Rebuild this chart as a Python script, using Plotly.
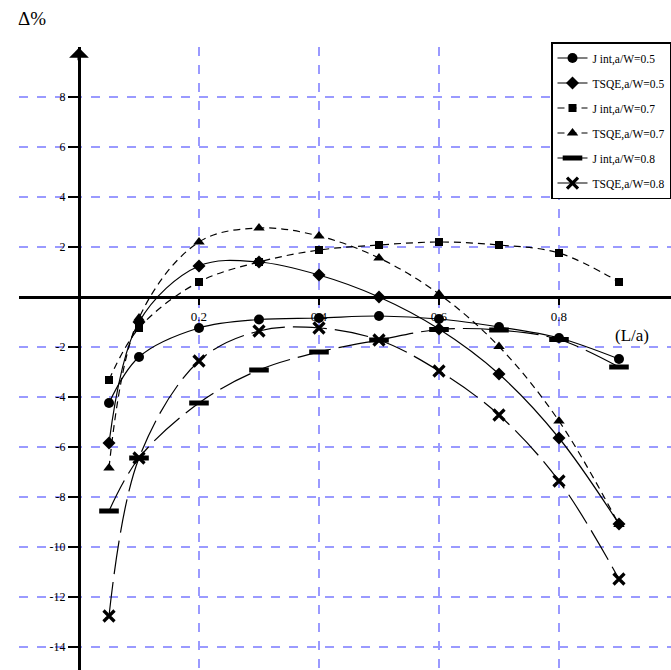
import plotly.graph_objects as go

# ---- data ----
L_over_a = [0.05, 0.1, 0.2, 0.3, 0.4, 0.5, 0.6, 0.7, 0.8, 0.9]
jint_05 = [-4.24, -2.40, -1.24, -0.90, -0.84, -0.76, -0.88, -1.20, -1.64, -2.48]
tsqe_05 = [-5.84, -1.00, 1.24, 1.40, 0.88, 0.00, -1.28, -3.08, -5.64, -9.08]
jint_07 = [-3.32, -1.24, 0.60, 1.40, 1.88, 2.08, 2.20, 2.08, 1.76, 0.60]
tsqe_07 = [-6.84, -0.84, 2.20, 2.76, 2.44, 1.56, 0.12, -1.98, -4.96, -9.10]
jint_08 = [-8.56, -6.44, -4.24, -2.92, -2.20, -1.72, -1.30, -1.32, -1.70, -2.80]
tsqe_08 = [-12.76, -6.44, -2.56, -1.36, -1.24, -1.72, -2.96, -4.72, -7.36, -11.28]

series_names = ["J int,a/W=0.5", "TSQE,a/W=0.5", "J int,a/W=0.7",
                "TSQE,a/W=0.7", "J int,a/W=0.8", "TSQE,a/W=0.8"]

x_tick_vals = [0.2, 0.4, 0.6, 0.8]
x_tick_text = ["0.2", "0.4", "0.6", "0.8"]
y_tick_vals = [8, 6, 4, 2, -2, -4, -6, -8, -10, -12, -14]
y_tick_text = ["8", "6", "4", "2", "-2", "-4", "-6", "-8", "-10", "-12", "-14"]

# ---- styles ----
SERIF = "Liberation Serif, Times New Roman, serif"
styles = [
    dict(dash="solid", symbol="circle", size=10, lw=0),
    dict(dash="solid", symbol="diamond", size=10, lw=0),
    dict(dash="7px,5px", symbol="square", size=8, lw=0),
    dict(dash="7px,5px", symbol="triangle-up", size=10, lw=0),
    dict(dash="34px,8px", symbol="line-ew", size=14, lw=5),
    dict(dash="34px,8px", symbol="x-thin", size=11, lw=3.2),
]
all_y = [jint_05, tsqe_05, jint_07, tsqe_07, jint_08, tsqe_08]

fig = go.Figure()
for i, (name, ys, st) in enumerate(zip(series_names, all_y, styles)):
    fig.add_trace(go.Scatter(
        x=L_over_a, y=ys, name=name, mode="lines+markers", legendgroup=f"g{i}",
        line=dict(color="black", width=1.2, dash=st["dash"], shape="spline", smoothing=1.0),
        marker=dict(symbol=st["symbol"], size=st["size"], color="black",
                    line=dict(color="black", width=st["lw"])),
    ))

xr = [-0.1, 0.9867]
yr = [-14.92, 10.0]
xpos = (0 - yr[0]) / (yr[1] - yr[0])
ypos = (0 - xr[0]) / (xr[1] - xr[0])
grid = "#9a9aff"

fig.update_layout(
    width=671, height=670,
    margin=dict(l=19, r=0, t=47, b=0, autoexpand=False),
    paper_bgcolor="white", plot_bgcolor="white",
    font=dict(family=SERIF, size=12, color="black"),
    showlegend=True,
    legend=dict(x=1.0, y=1.008, xanchor="right", yanchor="top",
                bgcolor="white", bordercolor="black", borderwidth=1.5,
                font=dict(family=SERIF, size=11.5, color="black"),
                itemwidth=30, tracegroupgap=6),
    xaxis=dict(range=xr, anchor="free", position=xpos,
               tickvals=x_tick_vals, ticktext=x_tick_text,
               showgrid=True, gridcolor=grid, griddash="dash", gridwidth=1.5,
               showline=True, linecolor="black", linewidth=3,
               ticks="outside", ticklen=6, tickwidth=1.5, tickcolor="black",
               zeroline=False, tickfont=dict(family=SERIF, size=13, color="black")),
    yaxis=dict(range=yr, anchor="free", position=ypos,
               tickvals=y_tick_vals, ticktext=y_tick_text,
               showgrid=True, gridcolor=grid, griddash="dash", gridwidth=1.5,
               showline=True, linecolor="black", linewidth=3,
               ticks="outside", ticklen=10, tickwidth=1.5, tickcolor="black",
               zeroline=False, tickfont=dict(family=SERIF, size=12, color="black")),
    xaxis2=dict(range=xr, overlaying="x", anchor="free", position=xpos,
                tickvals=x_tick_vals, showticklabels=False, showgrid=False,
                showline=False, zeroline=False,
                ticks="inside", ticklen=6, tickwidth=1.5, tickcolor="black"),
    yaxis2=dict(range=yr, overlaying="y", anchor="free", position=ypos,
                tickvals=y_tick_vals, showticklabels=False, showgrid=False,
                showline=False, zeroline=False,
                ticks="inside", ticklen=9, tickwidth=1.5, tickcolor="black"),
    annotations=[
        dict(text="Δ%", xref="paper", yref="paper", x=0.02, y=1.045,
             xanchor="center", yanchor="middle",
             showarrow=False, font=dict(family=SERIF, size=19)),
        dict(text="(L/a)", xref="x", yref="y", x=0.922, y=-1.52,
             xanchor="center", yanchor="middle",
             showarrow=False, font=dict(family=SERIF, size=17)),
        dict(text="", xref="x", yref="y", x=0, y=9.97, ax=0, ay=14,
             showarrow=True, arrowhead=1, arrowsize=1.1, arrowwidth=3, arrowcolor="black"),
    ],
)

fig.write_html("out.html", config={"displayModeBar": False},
               post_script="document.body.style.margin='0px';")
